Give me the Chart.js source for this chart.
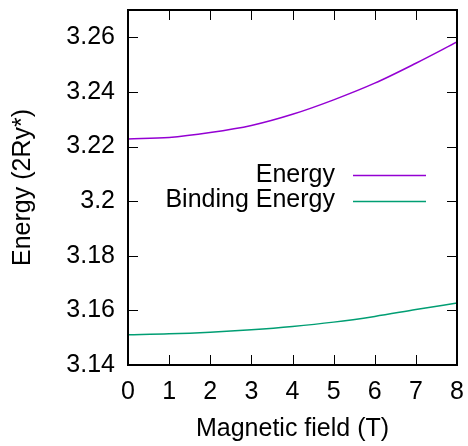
<!DOCTYPE html>
<html>
<head>
<meta charset="utf-8">
<script src="https://cdn.jsdelivr.net/npm/chart.js@4"></script>
<style>
  html, body { margin: 0; padding: 0; background: #fff; }
  #grafico { display: block; }
</style>
</head>
<body>
<canvas id="grafico" width="468" height="446"></canvas>
<script>
// datos
const campo = [0, 1, 2, 3, 4, 5, 6, 7, 8];
const energia = [3.2228, 3.2233, 3.2251, 3.2277, 3.2318, 3.2371, 3.2432, 3.2505, 3.2583];
const energiaLigadura = [3.1511, 3.1514, 3.1520, 3.1529, 3.1541, 3.1557, 3.1578, 3.1603, 3.1627];
const ticksX = [0, 1, 2, 3, 4, 5, 6, 7, 8];
const ticksY = [3.14, 3.16, 3.18, 3.20, 3.22, 3.24, 3.26];

const fuente = 'Liberation Sans, Arial, sans-serif';

// marco y ticks hacia adentro, estilo gnuplot
const marcoPlugin = {
  id: 'marco',
  afterDraw(chart) {
    const { ctx, chartArea: a, scales } = chart;
    const largo = 10;
    ctx.save();
    ctx.strokeStyle = '#000';
    ctx.lineWidth = 1;
    ctx.beginPath();
    ticksX.forEach(v => {
      const px = Math.round(scales.x.getPixelForValue(v)) + 0.5;
      ctx.moveTo(px, a.bottom); ctx.lineTo(px, a.bottom - largo);
      ctx.moveTo(px, a.top); ctx.lineTo(px, a.top + largo);
    });
    ticksY.forEach(v => {
      const py = Math.round(scales.y.getPixelForValue(v)) + 0.5;
      ctx.moveTo(a.left, py); ctx.lineTo(a.left + largo, py);
      ctx.moveTo(a.right, py); ctx.lineTo(a.right - largo, py);
    });
    ctx.stroke();
    ctx.lineWidth = 2;
    ctx.strokeRect(a.left, a.top, a.right - a.left, a.bottom - a.top);
    ctx.restore();
  }
};

// leyenda dentro del area, texto a la izquierda de la linea
const leyendaPlugin = {
  id: 'leyenda',
  afterDraw(chart) {
    const { ctx } = chart;
    ctx.save();
    ctx.font = '25px ' + fuente;
    ctx.textAlign = 'right';
    ctx.textBaseline = 'middle';
    chart.data.datasets.forEach((ds, i) => {
      const y = 175 + i * 25.5;
      ctx.fillStyle = '#000';
      ctx.fillText(ds.label, 335, y);
      ctx.strokeStyle = ds.borderColor;
      ctx.lineWidth = 1.5;
      ctx.beginPath();
      ctx.moveTo(353, Math.round(y) + 0.5);
      ctx.lineTo(426, Math.round(y) + 0.5);
      ctx.stroke();
    });
    ctx.restore();
  }
};

new Chart(document.getElementById('grafico'), {
  type: 'line',
  data: {
    datasets: [
      {
        label: 'Energy',
        data: campo.map((x, i) => ({ x, y: energia[i] })),
        borderColor: '#9400d3',
        borderWidth: 1.5,
        pointRadius: 0,
        cubicInterpolationMode: 'monotone',
        fill: false
      },
      {
        label: 'Binding Energy',
        data: campo.map((x, i) => ({ x, y: energiaLigadura[i] })),
        borderColor: '#009e73',
        borderWidth: 1.5,
        pointRadius: 0,
        cubicInterpolationMode: 'monotone',
        fill: false
      }
    ]
  },
  options: {
    responsive: false,
    animation: false,
    layout: {
      padding: { top: 10, right: 11, left: 0, bottom: 0 }
    },
    plugins: {
      legend: { display: false },
      tooltip: { enabled: false }
    },
    scales: {
      x: {
        type: 'linear',
        min: 0,
        max: 8,
        afterBuildTicks: s => { s.ticks = ticksX.map(v => ({ value: v })); },
        afterFit: s => { s.height = 81; s.paddingLeft = 0; s.paddingRight = 0; },
        grid: { display: false, drawTicks: false },
        border: { display: false },
        ticks: {
          padding: 12,
          color: '#000',
          font: { family: fuente, size: 25 },
          maxRotation: 0
        },
        title: {
          display: true,
          text: 'Magnetic field (T)',
          color: '#000',
          font: { family: fuente, size: 25 },
          padding: { top: 0, bottom: 1.5 }
        }
      },
      y: {
        min: 3.14,
        max: 3.27,
        afterBuildTicks: s => { s.ticks = ticksY.map(v => ({ value: v })); },
        afterFit: s => { s.width = 128; s.paddingTop = 0; s.paddingBottom = 0; },
        grid: { display: false, drawTicks: false },
        border: { display: false },
        ticks: {
          padding: 13,
          color: '#000',
          font: { family: fuente, size: 25 },
          callback: v => String(+v.toFixed(2))
        },
        title: {
          display: true,
          text: 'Energy (2Ry*)',
          color: '#000',
          font: { family: fuente, size: 25 },
          padding: { top: 8, bottom: 0 }
        }
      }
    }
  },
  plugins: [marcoPlugin, leyendaPlugin]
});
</script>
</body>
</html>
